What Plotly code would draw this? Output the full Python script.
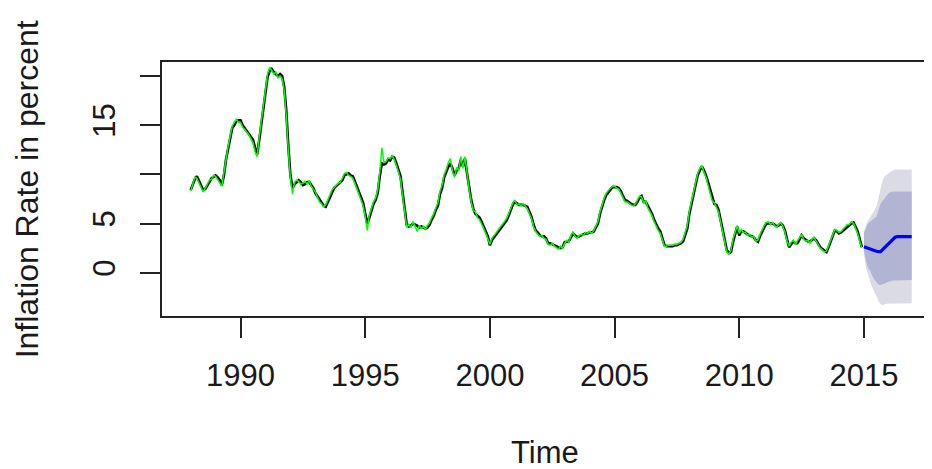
import plotly.graph_objects as go

# ---------------- data ----------------
start_year = 1988
actual = [
    # 1988
    8.4, 8.9, 9.5, 9.8, 9.3, 8.9, 8.4, 8.5, 8.8, 9.2, 9.6, 9.8,
    # 1989
    9.9, 9.7, 9.4, 8.9, 9.9, 11.5, 12.6, 13.6, 14.7, 15.0, 15.4, 15.5,
    # 1990
    15.5, 15.0, 14.7, 14.5, 14.2, 13.8, 13.5, 12.7, 12.0, 13.5, 15.0, 16.5,
    # 1991
    18.0, 19.9, 20.5, 20.7, 20.4, 20.2, 20.0, 20.2, 20.0, 18.9, 16.5, 12.8,
    # 1992
    9.9, 8.6, 9.0, 9.2, 9.4, 9.2, 8.9, 9.0, 9.2, 9.25, 8.9, 8.6,
    # 1993
    8.1, 7.8, 7.4, 7.2, 6.8, 6.7, 7.2, 7.6, 8.2, 8.6, 8.8, 9.0,
    # 1994
    9.1, 9.4, 9.9, 10.0, 10.1, 9.9, 9.8, 9.3, 8.7, 8.2, 7.7, 7.1,
    # 1995
    6.0, 5.0, 5.6, 6.4, 7.0, 7.4, 8.1, 9.8, 11.1, 11.0, 11.1, 11.5,
    # 1996
    11.4, 11.8, 11.7, 11.1, 10.3, 9.8, 8.1, 6.4, 4.85, 4.7, 4.8, 5.0,
    # 1997
    4.9, 4.8, 4.6, 4.7, 4.6, 4.5, 4.6, 4.9, 5.4, 5.8, 6.4, 6.8,
    # 1998
    8.0, 8.6, 9.7, 10.2, 10.8, 11.1, 10.6, 9.9, 10.4, 10.6, 11.5, 10.8,
    # 1999
    11.6, 10.1, 8.7, 7.4, 6.5, 6.0, 5.8, 5.6, 5.2, 4.7, 4.2, 3.7,
    # 2000
    2.8, 3.3, 3.6, 3.9, 4.2, 4.4, 4.7, 5.0, 5.3, 5.8, 6.4, 6.9,
    # 2001
    7.2, 7.0, 6.9, 6.9, 6.9, 6.8, 6.7, 6.2, 5.7, 4.9, 4.3, 4.1,
    # 2002
    3.8, 3.7, 3.7, 3.5, 3.0, 3.0, 2.9, 2.8, 2.7, 2.6, 2.5, 2.6,
    # 2003
    3.1, 3.15, 3.2, 3.6, 4.0, 3.8, 3.6, 3.7, 3.8, 3.9, 4.0, 4.0,
    # 2004
    4.1, 4.1, 4.2, 4.6, 5.0, 6.0, 6.8, 7.4, 7.9, 8.2, 8.4, 8.7,
    # 2005
    8.7, 8.7, 8.6, 8.3, 7.8, 7.4, 7.3, 7.1, 7.0, 6.9, 6.9, 7.2,
    # 2006
    7.6, 7.8, 7.2, 7.2, 6.8, 6.4, 6.0, 5.4, 4.9, 4.5, 4.2, 3.5,
    # 2007
    2.8, 2.7, 2.7, 2.7, 2.7, 2.8, 2.8, 2.9, 3.0, 3.2, 3.8, 4.5,
    # 2008
    6.0, 6.9, 8.1, 8.9, 9.9, 10.4, 10.8, 10.4, 9.9, 9.2, 8.4, 7.6,
    # 2009
    7.0, 6.9, 6.4, 5.4, 4.4, 3.3, 2.3, 2.0, 2.1, 3.1, 4.0, 4.7,
    # 2010
    3.8, 4.2, 4.2, 4.0, 3.9, 3.8, 3.7, 3.6, 3.3, 3.15, 3.7, 4.2,
    # 2011
    4.6, 5.0, 5.0, 5.0, 5.0, 4.9, 4.7, 4.8, 5.0, 4.8, 4.3, 3.4,
    # 2012
    2.6, 2.9, 3.15, 3.0, 3.0, 3.4, 3.8, 3.5, 3.3, 3.2, 3.15, 3.3,
    # 2013
    3.5, 3.3, 2.9, 2.6, 2.4, 2.2, 2.1, 2.6, 3.15, 3.7, 4.3, 4.2,
    # 2014
    4.0, 4.1, 4.3, 4.5, 4.7, 4.8, 5.0, 5.1, 4.6, 4.2, 3.4, 2.6,
]

fitted = [
    # 1988
    8.3, 9.0, 9.7, 9.6, 9.1, 8.6, 8.2, 8.6, 9.0, 9.4, 9.5, 9.9,
    # 1989
    9.8, 9.5, 9.2, 8.8, 10.2, 11.7, 12.8, 13.9, 14.9, 15.3, 15.6, 15.3,
    # 1990
    15.3, 14.8, 14.6, 14.3, 14.0, 13.6, 13.2, 12.3, 11.8, 13.8, 15.4, 16.9,
    # 1991
    18.5, 20.2, 20.9, 20.5, 20.2, 20.4, 19.8, 20.0, 19.7, 18.6, 16.0, 12.4,
    # 1992
    9.6, 8.0, 9.2, 9.4, 9.3, 9.0, 9.1, 9.3, 9.0, 9.4, 8.8, 8.5,
    # 1993
    8.2, 7.7, 7.2, 7.0, 6.7, 6.9, 7.5, 7.9, 8.4, 8.7, 8.9, 9.1,
    # 1994
    9.2, 9.6, 10.1, 10.2, 9.9, 9.8, 9.6, 9.1, 8.5, 8.0, 7.5, 6.8,
    # 1995
    5.7, 4.3, 5.9, 6.6, 7.2, 7.6, 8.4, 10.2, 12.7, 11.2, 11.3, 11.7,
    # 1996
    11.6, 11.9, 11.5, 10.9, 10.1, 9.5, 7.8, 6.0, 4.6, 4.9, 4.6, 5.2,
    # 1997
    4.7, 4.2, 4.8, 4.5, 4.7, 4.4, 4.8, 5.1, 5.6, 6.0, 6.6, 7.1,
    # 1998
    8.3, 8.9, 10.0, 10.5, 11.2, 11.6, 10.3, 9.7, 10.7, 10.4, 11.8, 10.6,
    # 1999
    11.8, 9.9, 8.5, 7.2, 6.3, 6.2, 5.6, 5.4, 5.0, 4.5, 4.0, 3.5,
    # 2000
    2.9, 3.5, 3.8, 4.1, 4.4, 4.6, 4.9, 5.2, 5.5, 6.0, 6.6, 7.1,
    # 2001
    7.4, 6.9, 7.0, 6.8, 7.0, 6.7, 6.5, 6.0, 5.5, 4.7, 4.2, 3.9,
    # 2002
    3.7, 3.8, 3.5, 3.4, 2.9, 2.8, 3.0, 2.7, 2.5, 2.4, 2.7, 2.5,
    # 2003
    3.0, 3.3, 3.1, 3.8, 4.1, 3.7, 3.5, 3.8, 3.9, 3.8, 4.1, 4.0,
    # 2004
    4.2, 4.0, 4.3, 4.8, 5.2, 6.2, 7.0, 7.6, 8.1, 8.4, 8.6, 8.8,
    # 2005
    8.8, 8.6, 8.5, 8.1, 7.6, 7.2, 7.2, 7.0, 6.9, 6.8, 7.0, 7.4,
    # 2006
    7.8, 7.7, 7.1, 7.3, 6.6, 6.2, 5.8, 5.2, 4.7, 4.3, 4.0, 3.3,
    # 2007
    2.7, 2.7, 2.8, 2.8, 2.8, 2.9, 2.9, 3.0, 3.1, 3.4, 4.0, 4.8,
    # 2008
    6.3, 7.2, 8.4, 9.2, 10.1, 10.6, 10.9, 10.2, 9.7, 8.9, 8.2, 7.3,
    # 2009
    7.1, 6.7, 6.2, 5.2, 4.2, 3.1, 2.1, 1.9, 2.3, 3.4, 4.2, 4.8,
    # 2010
    4.0, 4.4, 4.1, 4.1, 3.8, 3.9, 3.6, 3.7, 3.2, 3.3, 3.9, 4.4,
    # 2011
    4.8, 5.1, 5.2, 4.9, 5.1, 4.8, 4.6, 4.9, 5.1, 4.7, 4.1, 3.2,
    # 2012
    2.7, 3.1, 3.3, 2.9, 3.2, 3.6, 3.9, 3.4, 3.2, 3.3, 3.0, 3.4,
    # 2013
    3.6, 3.2, 2.8, 2.5, 2.3, 2.1, 2.2, 2.8, 3.3, 3.9, 4.4, 4.3,
    # 2014
    4.1, 4.2, 4.4, 4.6, 4.9, 4.9, 5.2, 5.0, 4.5, 4.0, 3.2, 2.5,
]

fc_start = 2015
fc_mean = [2.64, 2.55, 2.45, 2.38, 2.32, 2.25, 2.18, 2.14, 2.14, 2.35, 2.55, 2.75,
           2.95, 3.2, 3.4, 3.6, 3.66, 3.66, 3.66, 3.66, 3.66, 3.66, 3.66, 3.66]
hi80 = [4.0, 4.6, 5.0, 5.2, 5.4, 5.6, 5.7, 6.3, 7.0, 7.3, 7.6, 7.9,
        8.1, 8.2, 8.25, 8.25, 8.25, 8.25, 8.25, 8.25, 8.25, 8.25, 8.25, 8.25]
lo80 = [2.3, 1.2, 0.5, 0.2, -0.3, -0.7, -1.0, -1.2, -1.25, -1.2, -1.1, -1.0,
        -0.9, -0.85, -0.8, -0.75, -0.75, -0.75, -0.75, -0.75, -0.75, -0.75, -0.75, -0.75]
hi95 = [4.2, 4.9, 5.3, 5.6, 5.9, 6.3, 6.7, 7.6, 8.6, 9.4, 9.8, 10.0,
        10.2, 10.3, 10.4, 10.5, 10.5, 10.5, 10.5, 10.5, 10.5, 10.5, 10.5, 10.5]
lo95 = [1.9, 0.5, -0.3, -0.9, -1.5, -2.0, -2.4, -2.9, -3.2, -3.3, -3.2, -3.15,
        -3.1, -3.1, -3.1, -3.1, -3.1, -3.1, -3.1, -3.1, -3.1, -3.1, -3.1, -3.1]

x_tickvals = [1990, 1995, 2000, 2005, 2010, 2015]
x_ticktext = ["1990", "1995", "2000", "2005", "2010", "2015"]
y_tickvals = [0, 5, 10, 15, 20]
y_ticktext = ["0", "5", "", "15", ""]

x_title = "Time"
y_title = "Inflation Rate in percent"

# ---------------- figure ----------------
t_hist = [start_year + i / 12 for i in range(len(actual))]
t_fc = [fc_start + i / 12 for i in range(len(fc_mean))]

FONT = "Liberation Sans, Arial, sans-serif"

fig = go.Figure()

fig.add_trace(go.Scatter(
    x=t_fc + t_fc[::-1], y=hi95 + lo95[::-1], fill="toself",
    fillcolor="#DBDBE4", line=dict(width=0), mode="lines", hoverinfo="skip"))
fig.add_trace(go.Scatter(
    x=t_fc + t_fc[::-1], y=hi80 + lo80[::-1], fill="toself",
    fillcolor="#B1B5D3", line=dict(width=0), mode="lines", hoverinfo="skip"))

fig.add_trace(go.Scatter(x=t_hist, y=actual, mode="lines",
                         line=dict(color="black", width=2.6)))
fig.add_trace(go.Scatter(x=t_hist, y=fitted, mode="lines",
                         line=dict(color="#00FF00", width=1.5)))
fig.add_trace(go.Scatter(x=t_fc, y=fc_mean, mode="lines",
                         line=dict(color="#0000FF", width=3.2)))

# page body adds an 8px offset, so the figure is 8px smaller on each axis
fig.update_layout(
    width=924, height=461,
    margin=dict(l=154, r=2, t=54, b=153),
    plot_bgcolor="white", paper_bgcolor="white",
    showlegend=False,
    font=dict(family=FONT, size=31, color="#1a1a1a"),
)

fig.update_xaxes(
    range=[1986.85, 2017.57],
    tickvals=x_tickvals, ticktext=x_ticktext,
    ticks="outside", ticklen=20, tickwidth=1.5, tickcolor="#222",
    showline=True, linecolor="#222", linewidth=1.5, mirror=True,
    showgrid=False, zeroline=False,
    tickfont=dict(size=31), ticklabelstandoff=11,
)
fig.update_yaxes(
    range=[-4.4, 21.42],
    tickvals=y_tickvals, ticktext=y_ticktext, tickangle=-90,
    ticks="outside", ticklen=20, tickwidth=1.5, tickcolor="#222",
    showline=True, linecolor="#222", linewidth=1.5, mirror=True,
    showgrid=False, zeroline=False,
    tickfont=dict(size=31), ticklabelstandoff=13,
)

fig.add_annotation(text=x_title, xref="paper", yref="paper",
                   x=0.5, y=-(452 - 316) / 254, xanchor="center", yanchor="middle",
                   showarrow=False, font=dict(size=31))
fig.add_annotation(text=y_title, xref="paper", yref="paper",
                   x=-(162 - 27) / 768, y=0.5, xanchor="center", yanchor="middle",
                   textangle=-90, showarrow=False, font=dict(size=32))

fig.write_html("out.html")
